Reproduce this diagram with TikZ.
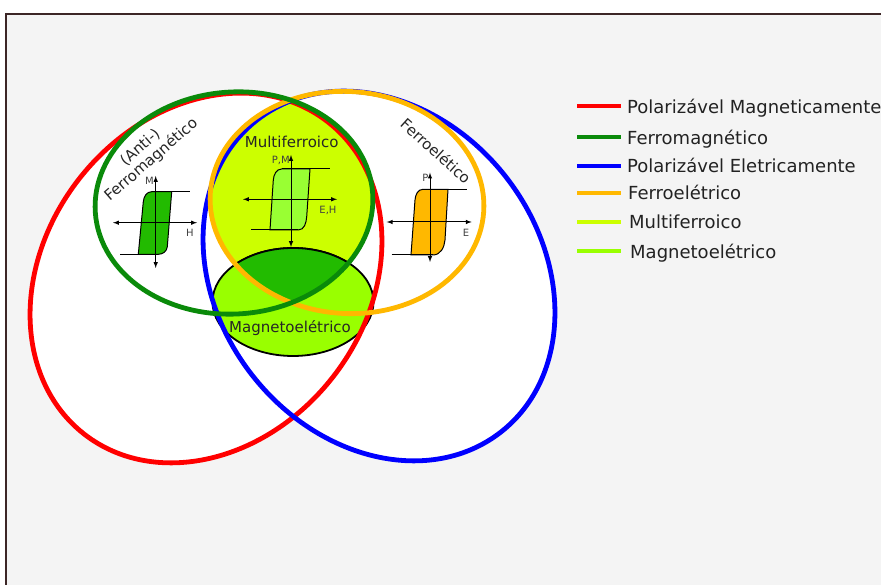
\documentclass[tikz,border=0pt]{standalone}
\usepackage{fontspec}
\setmainfont{DejaVu Sans}
\definecolor{bggray}{HTML}{F4F4F4}
\definecolor{framecol}{HTML}{3C2626}
\definecolor{fmgreen}{HTML}{0A8A0A}
\definecolor{feorange}{HTML}{FFB800}
\definecolor{mfyellow}{HTML}{CCFF00}
\definecolor{melime}{HTML}{99FF00}
\definecolor{medark}{HTML}{22BB00}
\definecolor{mfloop}{HTML}{99FF33}
\definecolor{txtgray}{HTML}{222222}
\begin{document}
\begin{tikzpicture}[x=1pt, y=1pt,
  ring/.style={line width=4.8pt},
  hyst/.style={draw=black, line width=1pt},
  axisline/.style={<->, >=latex, line width=1pt},
  satline/.style={line width=1pt},
  legline/.style={line width=3.8pt},
  legtext/.style={anchor=base west, inner sep=0pt, font=\fontsize{18}{21}\selectfont, text=txtgray},
  tag/.style={inner sep=0pt, font=\fontsize{15}{17}\selectfont, text=black!85},
  axlabel/.style={inner sep=1pt, font=\fontsize{10}{11}\selectfont, text=black!75}
]
\useasboundingbox (0,0) rectangle (881,585);
% frame and white sets
\filldraw[fill=bggray, draw=framecol, line width=2pt] (6,571) rectangle (900,-20);
\fill[white, rotate around={52:(206,307)}] (206,307) ellipse [x radius=198pt, y radius=161pt];
\fill[white, rotate around={-52:(379,309)}] (379,309) ellipse [x radius=198pt, y radius=161pt];
% multiferroic lens
\begin{scope}
  \clip[rotate around={4:(234,382)}] (234,382) ellipse [x radius=139pt, y radius=111pt];
  \fill[mfyellow, rotate around={-4:(347,382.5)}] (347,382.5) ellipse [x radius=137pt, y radius=111pt];
\end{scope}
% magnetoelectric
\filldraw[fill=melime, draw=black, line width=1.8pt] (293,283) ellipse [x radius=80.5pt, y radius=54pt];
\begin{scope}
  \clip[rotate around={4:(234,382)}] (234,382) ellipse [x radius=139pt, y radius=111pt];
  \clip[rotate around={-4:(347,382.5)}] (347,382.5) ellipse [x radius=137pt, y radius=111pt];
  \filldraw[fill=medark, draw=black, line width=1.8pt] (293,283) ellipse [x radius=80.5pt, y radius=54pt];
\end{scope}
% rings
\draw[ring, red, rotate around={52:(206,307)}] (206,307) ellipse [x radius=198pt, y radius=161pt];
\draw[ring, blue, rotate around={-52:(379,309)}] (379,309) ellipse [x radius=198pt, y radius=161pt];
\draw[ring, feorange, rotate around={-4:(347,382.5)}] (347,382.5) ellipse [x radius=137pt, y radius=111pt];
\draw[ring, fmgreen, rotate around={4:(234,382)}] (234,382) ellipse [x radius=139pt, y radius=111pt];
% ferromagnetic loop
\filldraw[hyst, fill=medark] (138.3,330.7) -- (143.3,383.3) to[out=85,in=180] (151.7,393.3) -- (171.7,393.3)
  -- (167.3,338.3) to[out=-95,in=0] (158.3,330.7) -- cycle;
\draw[satline] (151.7,393.3) -- (190,393.3);
\draw[satline] (120,330.7) -- (158.3,330.7);
\draw[axisline] (113,362.3) -- (197,362.3);
\draw[axisline] (155.7,317) -- (155.7,409);
\node[axlabel, anchor=east] (fmM) at (155,404) {M};
\node[axlabel] (fmH) at (190,352) {H};
% multiferroic loop
\filldraw[hyst, fill=mfloop] (270,355) -- (273.3,405) to[out=85,in=180] (281.7,416) -- (310,416)
  -- (306.7,368.3) to[out=-95,in=0] (298.3,355) -- cycle;
\draw[satline] (281.7,416) -- (330,416);
\draw[satline] (251,355) -- (298.3,355);
\draw[axisline] (243,385.7) -- (337,385.7);
\draw[axisline] (291,338) -- (291,430);
\node[axlabel, anchor=east] (mfPM) at (291,425) {P,M};
\node[axlabel] (mfEH) at (328,375) {E,H};
% ferroelectric loop
\filldraw[hyst, fill=feorange] (411,330) -- (415,385) to[out=85,in=180] (423,395.7) -- (448,395.7)
  -- (445,345) to[out=-95,in=0] (433,330) -- cycle;
\draw[satline] (423,395.7) -- (466.7,395.7);
\draw[satline] (391.7,330) -- (433,330);
\draw[axisline] (386.7,363) -- (471.7,363);
\draw[axisline] (430,323) -- (430,412.3);
\node[axlabel, anchor=east] (feP) at (429.5,407) {P};
\node[axlabel] (feE) at (466,352) {E};
% region labels
\node[tag] (mflabel) at (291.7,443.3) {Multiferroico};
\node[tag] (melabel) at (290,257) {Magnetoelétrico};
\node[tag, rotate=-42] (felabel) at (436,434) {Ferroelético};
\node[tag, rotate=41, align=center, font=\fontsize{15}{16.5}\selectfont] (fmlabel) at (146,431) {(Anti-)\\Ferromagnético};
% legend
\draw[legline, red] (577,479.3) -- (621,479.3);
\node[legtext] (lg1) at (627,471.7) {Polarizável Magneticamente};
\draw[legline, fmgreen] (577,448.3) -- (621,448.3);
\node[legtext] (lg2) at (627,440.7) {Ferromagnético};
\draw[legline, blue] (577,419.3) -- (621,419.3);
\node[legtext] (lg3) at (627,412.3) {Polarizável Eletricamente};
\draw[legline, feorange] (577,392.3) -- (621,392.3);
\node[legtext] (lg4) at (628,385) {Ferroelétrico};
\draw[legline, mfyellow] (577,363.3) -- (621,363.3);
\node[legtext] (lg5) at (629,356) {Multiferroico};
\draw[legline, melime] (577,334) -- (621,334);
\node[legtext] (lg6) at (630,326.7) {Magnetoelétrico};
\end{tikzpicture}
\end{document}
